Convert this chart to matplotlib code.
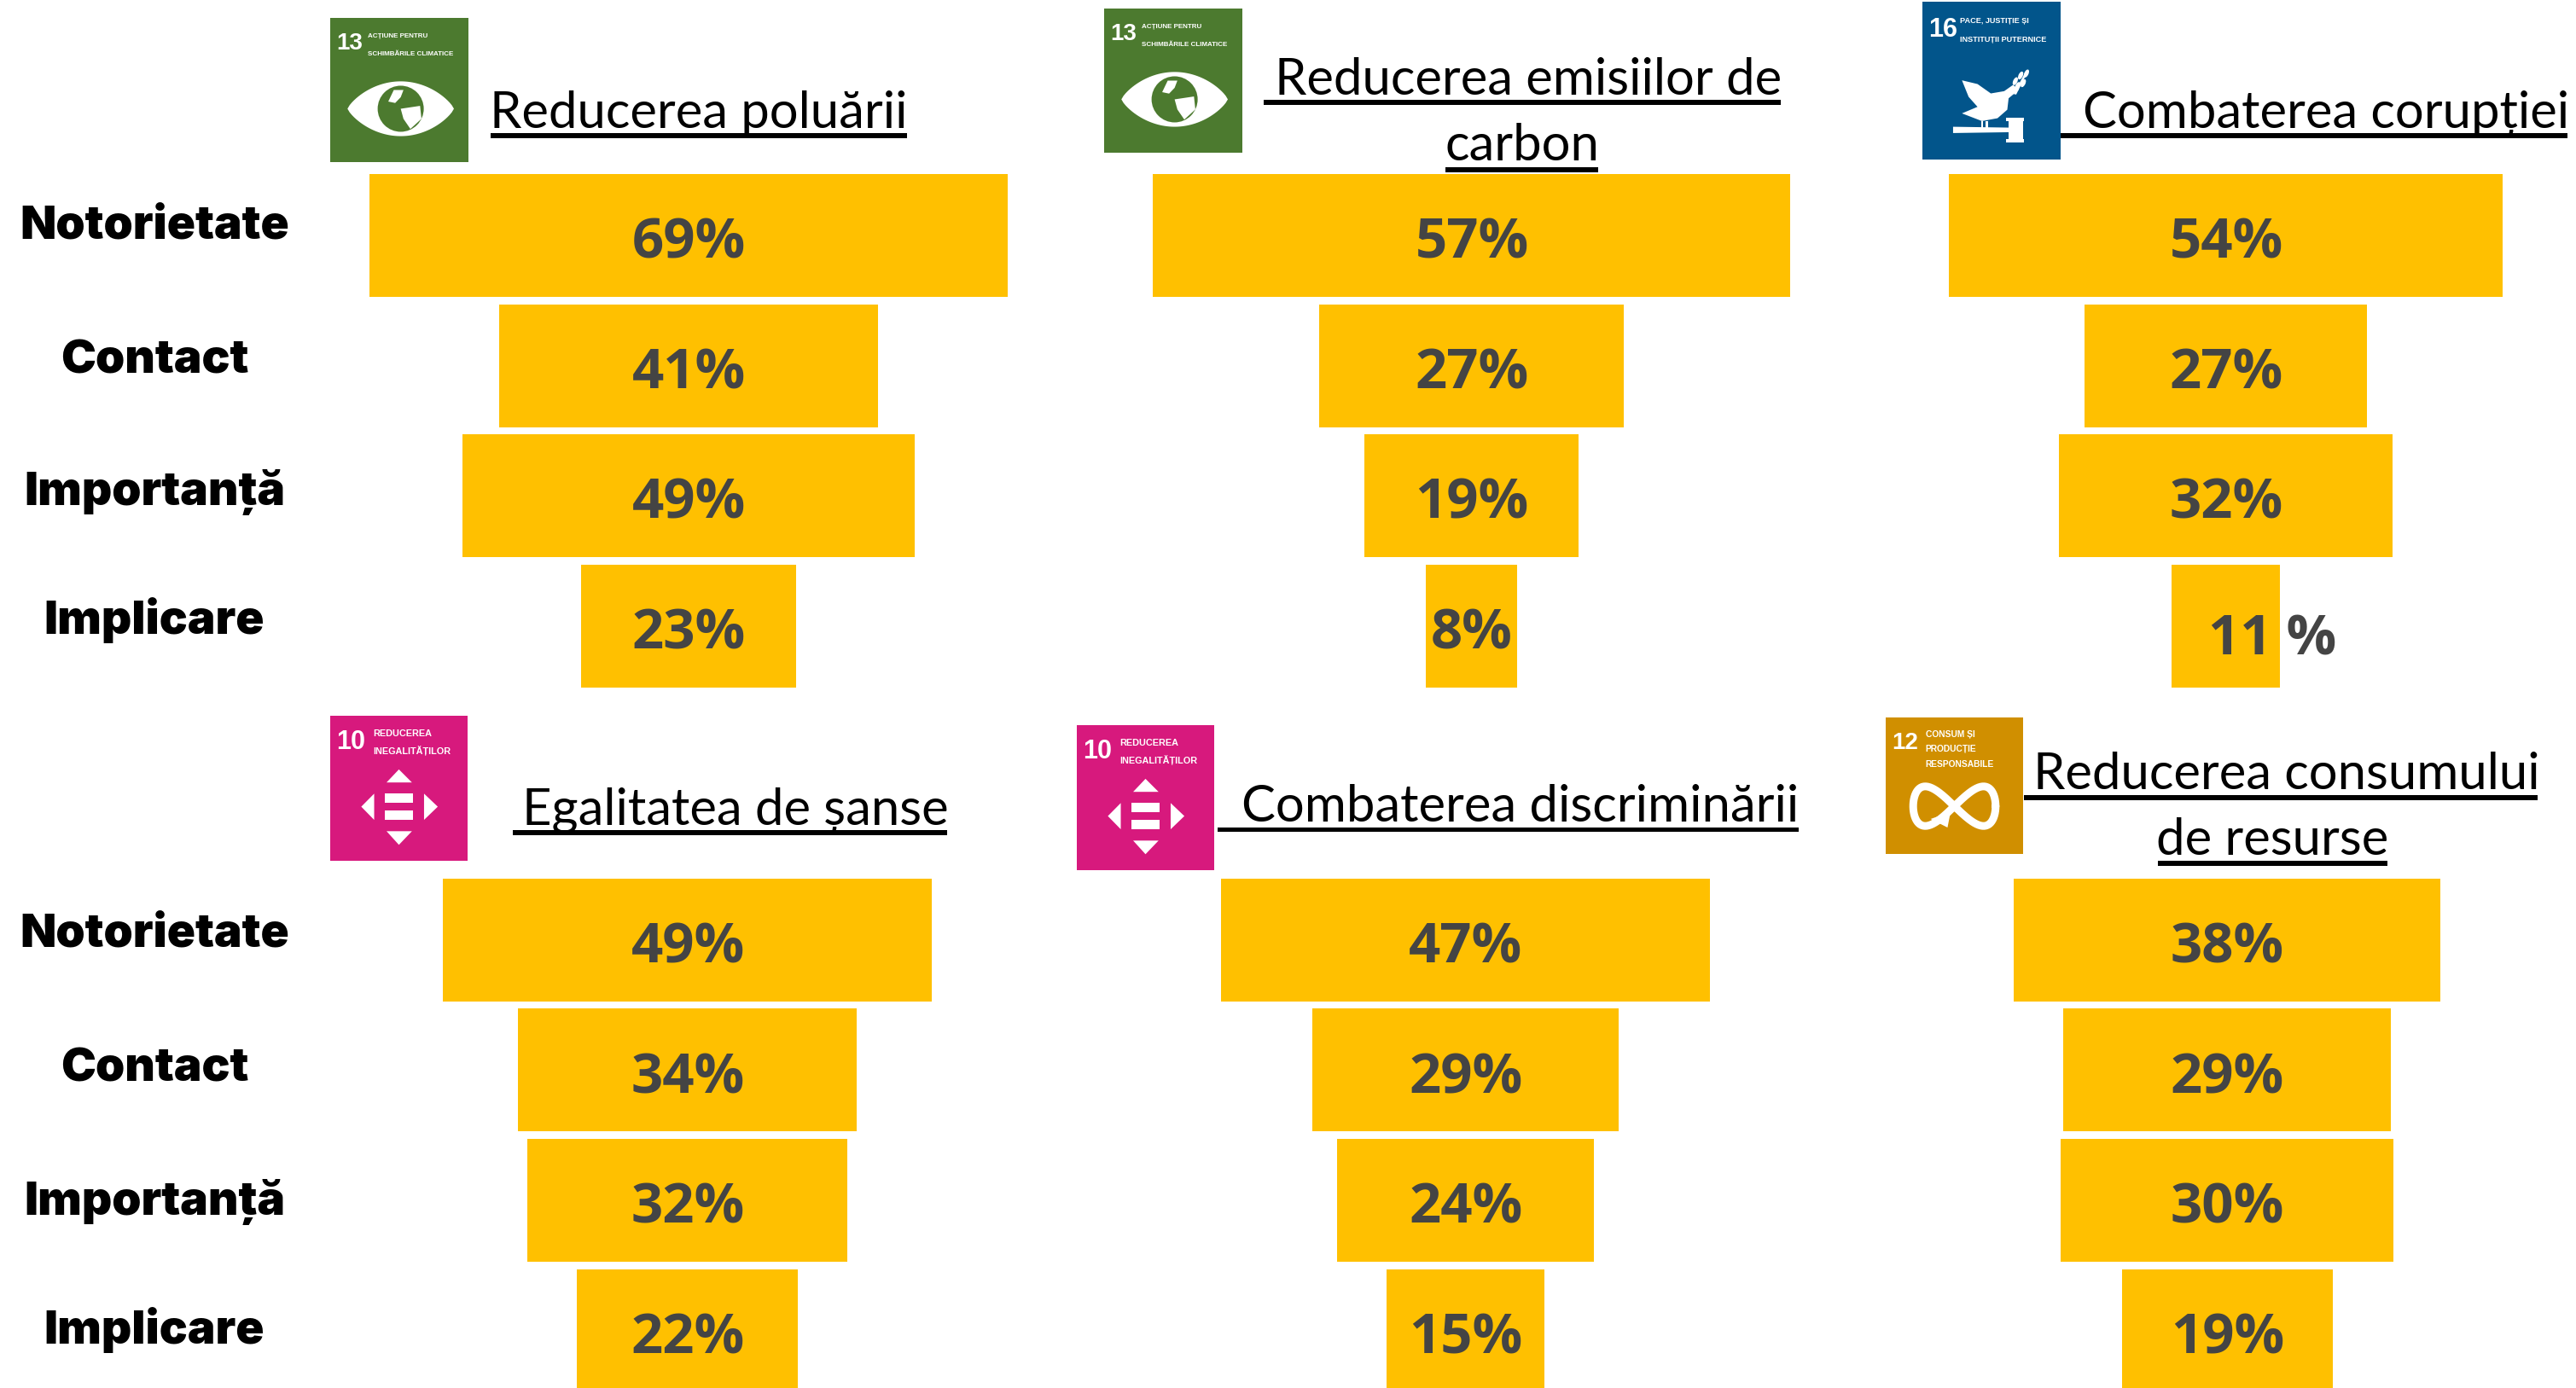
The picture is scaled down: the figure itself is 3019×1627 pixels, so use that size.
import numpy as np
import matplotlib
matplotlib.use("Agg")
import matplotlib.pyplot as plt
from matplotlib.patches import Polygon, Rectangle, Circle, Ellipse

W, H = 3019, 1627
DPI = 100

stages = ["Notorietate", "Contact", "Importanță", "Implicare"]

reducerea_poluarii = [69, 41, 49, 23.2]
emisii_carbon = [57, 27.2, 19.1, 8.1]
coruptie = [54, 27.6, 32.5, 10.6]
egalitate = [49, 33.9, 32, 22.1]
discriminare = [47, 29.4, 24.6, 15.2]
consum_resurse = [38.4, 29.6, 30, 19]

labels_poluare = ["69%", "41%", "49%", "23%"]
labels_carbon = ["57%", "27%", "19%", "8%"]
labels_coruptie = ["54%", "27%", "32%", "11 %"]
labels_egalitate = ["49%", "34%", "32%", "22%"]
labels_discriminare = ["47%", "29%", "24%", "15%"]
labels_consum = ["38%", "29%", "30%", "19%"]

BAR = "#FFC000"
VALTXT = "#444444"
VALFONT = ["Open Sans", "DejaVu Sans"]
TITLEFONT = ["Lato", "Open Sans", "DejaVu Sans"]
STAGEFONT = ["Inter", "Lato", "DejaVu Sans"]
NARROW = ["Liberation Sans", "DejaVu Sans"]

fig = plt.figure(figsize=(W / DPI, H / DPI), dpi=DPI, facecolor="white")


def funnel(values, labels, cx, y0, pitch, px_per_unit):
    """One funnel: an axes whose data scale maps percent to pixels."""
    half = 420
    top = y0 - pitch / 2
    height = pitch * 4
    ax = fig.add_axes([(cx - half) / W, 1 - (top + height) / H, 2 * half / W, height / H])
    ax.set_xlim(-half / px_per_unit, half / px_per_unit)
    ax.set_ylim(3.5, -0.5)
    ax.axis("off")
    vals = np.array(values, dtype=float)
    ax.barh(np.arange(4), vals, left=-vals / 2, height=144 / pitch, color=BAR, linewidth=0)
    for i, lab in enumerate(labels):
        if lab.startswith("11"):
            ax.text(55 / px_per_unit, i + 0.06, lab, ha="center", va="center_baseline",
                    fontsize=47, fontweight="bold", color=VALTXT, family=VALFONT)
        else:
            ax.text(0.5 / px_per_unit, i + 0.015, lab, ha="center", va="center_baseline",
                    fontsize=47, fontweight="bold", color=VALTXT, family=VALFONT)


funnel(reducerea_poluarii, labels_poluare, 807, 276, 152.6, 10.83)
funnel(emisii_carbon, labels_carbon, 1724.5, 276, 152.6, 13.1)
funnel(coruptie, labels_coruptie, 2608.5, 276, 152.6, 12.02)
funnel(egalitate, labels_egalitate, 805.5, 1101.5, 152.8, 11.69)
funnel(discriminare, labels_discriminare, 1717.5, 1101.5, 152.8, 12.2)
funnel(consum_resurse, labels_consum, 2610, 1101.5, 152.8, 13.0)

# overlay in pixel coordinates for annotation, titles, icons
ov = fig.add_axes([0, 0, 1, 1], zorder=5)
ov.set_xlim(0, W)
ov.set_ylim(H, 0)
ov.axis("off")
ov.patch.set_alpha(0)

for ys in ([265, 423, 577, 727], [1095, 1253, 1409, 1559]):
    for s, y in zip(stages, ys):
        ov.text(181, y, s, ha="center", va="center", fontsize=39.5, fontweight=900,
                color="black", family=STAGEFONT)


def title(txt, x, base):
    ov.text(x, base, txt, ha="center", va="baseline", fontsize=43, color="black", family=TITLEFONT)


def rule(x0, x1, y):
    ov.add_patch(Rectangle((x0, y), x1 - x0, 5.5, color="black", linewidth=0))


title("Reducerea poluării", 819, 150)
rule(575, 1063, 156)
title("Reducerea emisiilor de", 1791, 111)
rule(1481, 2087, 117)
title("carbon", 1784, 188)
rule(1694, 1873, 196)
title("Combaterea corupției", 2726, 150)
rule(2415, 3009, 156)
title("Egalitatea de șanse", 862, 967)
rule(601, 1110, 973)
title("Combaterea discriminării", 1782, 963)
rule(1427, 2108, 969.5)
title("Reducerea consumului", 2680, 925)
rule(2372, 2974, 932)
title("de resurse", 2663, 1002)
rule(2529, 2798, 1009)


class Icon:
    def __init__(self, x0, y0, x1, y1, color):
        self.x0, self.y0, self.w, self.h, self.color = x0, y0, x1 - x0, y1 - y0, color
        ov.add_patch(Rectangle((x0, y0), self.w, self.h, color=color, linewidth=0))

    def p(self, pts):
        a = np.array(pts, dtype=float)
        return np.c_[self.x0 + a[:, 0] * self.w, self.y0 + a[:, 1] * self.h]

    def poly(self, pts, color="white"):
        ov.add_patch(Polygon(self.p(pts), closed=True, color=color, linewidth=0))

    def head(self, num, lines, x_text, ys, size, numsize=22, num_y=0.18):
        ov.text(self.x0 + 0.045 * self.w, self.y0 + num_y * self.h, num, ha="left", va="center",
                fontsize=numsize, fontweight="bold", color="white", family=NARROW)
        for t, y in zip(lines, ys):
            ov.text(self.x0 + x_text * self.w, self.y0 + y * self.h, t, ha="left", va="center",
                    fontsize=size, fontweight="bold", color="white", family=NARROW)


def climate(x0, y0, x1, y1):
    ic = Icon(x0, y0, x1, y1, "#4C7A2F")
    ic.head("13", ["ACȚIUNE PENTRU", "SCHIMBĂRILE CLIMATICE"], 0.27, [0.125, 0.25], 5.8, 20)
    t = np.linspace(-1, 1, 50)
    cx, cy, a, b = 0.51, 0.63, 0.385, 0.19
    upper = [(cx + a * u, cy - b * (1 - u ** 2) ** 0.8) for u in t]
    lower = [(cx + a * u, cy + b * (1 - u ** 2) ** 0.8) for u in t[::-1]]
    ic.poly(upper + lower)
    ccx, ccy = ic.p([(cx, cy)])[0]
    ov.add_patch(Circle((ccx, ccy), 27, color=ic.color, linewidth=0))
    ic.poly([(0.46, 0.50), (0.53, 0.50), (0.51, 0.55), (0.47, 0.59), (0.42, 0.58)])
    ic.poly([(0.51, 0.63), (0.65, 0.61), (0.66, 0.70), (0.58, 0.77), (0.53, 0.70)])


def inequality(x0, y0, x1, y1):
    ic = Icon(x0, y0, x1, y1, "#D7197D")
    ic.head("10", ["REDUCEREA", "INEGALITĂȚILOR"], 0.31, [0.124, 0.24], 7.8, 22)
    ic.poly([(0.5, 0.37), (0.41, 0.46), (0.595, 0.46)])
    ic.poly([(0.40, 0.537), (0.60, 0.537), (0.60, 0.60), (0.40, 0.60)])
    ic.poly([(0.40, 0.655), (0.60, 0.655), (0.60, 0.718), (0.40, 0.718)])
    ic.poly([(0.226, 0.627), (0.32, 0.537), (0.32, 0.718)])
    ic.poly([(0.783, 0.627), (0.683, 0.537), (0.683, 0.718)])
    ic.poly([(0.5, 0.89), (0.41, 0.796), (0.595, 0.796)])


def peace(x0, y0, x1, y1):
    ic = Icon(x0, y0, x1, y1, "#02558B")
    ic.head("16", ["PACE, JUSTIȚIE ȘI", "INSTITUȚII PUTERNICE"], 0.27, [0.124, 0.238], 6.6, 22)
    def z(pts):
        return [((x - 101) / 311, (y - 6) / 554) for x, y in pts]
    ic.poly(z([(190, 282), (225, 295), (255, 328), (285, 320), (305, 298), (318, 315),
               (295, 345), (292, 385), (270, 415), (235, 425), (190, 398), (225, 375), (205, 340)]))
    ic.poly(z([(306, 330), (332, 255), (336, 258), (312, 332)]))
    for (lx, ly) in [(335, 258), (322, 265), (310, 285), (328, 292), (315, 302)]:
        c = ic.p(z([(lx, ly)]))[0]
        ov.add_patch(Ellipse(c, 5, 10, angle=25, color="white", linewidth=0))
    ic.poly(z([(170, 445), (300, 448), (300, 464), (170, 467)]))
    ic.poly(z([(295, 422), (328, 422), (328, 488), (295, 488)]))
    ic.poly(z([(290, 412), (330, 412), (330, 424), (290, 424)]))
    ic.poly(z([(290, 488), (330, 488), (330, 500), (290, 500)]))
    ic.poly(z([(234, 424), (238, 424), (238, 450), (234, 450)]))
    ic.poly(z([(244, 424), (248, 424), (248, 450), (244, 450)]))


def consumption(x0, y0, x1, y1):
    ic = Icon(x0, y0, x1, y1, "#D08F00")
    ic.head("12", ["CONSUM ȘI", "PRODUCȚIE", "RESPONSABILE"], 0.29, [0.125, 0.23, 0.345], 7.4, 20, 0.19)
    t = np.linspace(0, 2 * np.pi, 200)
    a, b, cx, cy = 0.30, 0.145, 0.5, 0.65
    pts = ic.p(np.c_[cx + a * np.cos(t), cy + b * np.sin(2 * t)])
    ov.plot(pts[:, 0], pts[:, 1], color="white", lw=6.5, solid_capstyle="round")
    def z(pts):
        return [((x - 19) / 309, (y - 63) / 480) for x, y in pts]
    ic.poly(z([(120, 420), (165, 395), (158, 450)]))


climate(387, 21, 549, 190)
climate(1294, 10, 1456, 179)
peace(2253, 2, 2415, 187)
inequality(387, 839, 548, 1009)
inequality(1262, 850, 1423, 1020)
consumption(2210, 841, 2371, 1001)

fig.savefig("out.png", dpi=DPI, facecolor="white")
